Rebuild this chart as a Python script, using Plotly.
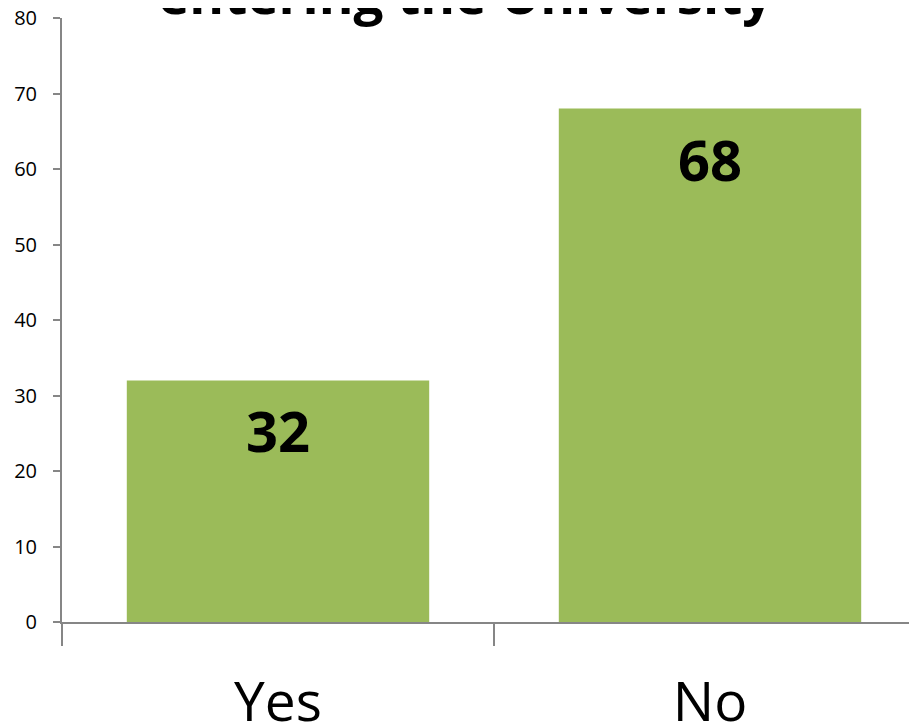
import plotly.graph_objects as go

categories = ["Yes", "No"]
values = [32, 68]
y_ticks = [0, 10, 20, 30, 40, 50, 60, 70, 80]
title_text = "entering the University"

BAR = "#9BBB59"
AXIS = "#868686"

fig = go.Figure(go.Bar(
    x=categories, y=values, width=0.7,
    marker=dict(color=BAR, line=dict(width=0)),
    hoverinfo="x+y",
))

for c, v in zip(categories, values):
    fig.add_annotation(x=c, y=v, text="<b>%d</b>" % v, showarrow=False,
                       yanchor="top", yshift=-10,
                       font=dict(family="Open Sans", size=56, color="black"))

fig.add_annotation(xref="paper", yref="paper", x=0.4725, y=1.0, yanchor="bottom",
                   yshift=-14, text="<b>%s</b>" % title_text, showarrow=False,
                   font=dict(family="Open Sans", size=53, color="black"))

fig.update_layout(
    width=909, height=719,
    margin=dict(l=54, r=0, t=10, b=105),
    paper_bgcolor="white", plot_bgcolor="white",
    showlegend=False,
    xaxis=dict(
        type="category", range=[-0.5, -0.5 + 855 / 432], automargin=False,
        showline=True, linecolor=AXIS, linewidth=2,
        ticks="outside", tickson="boundaries", ticklen=22, tickcolor=AXIS, tickwidth=2,
        showgrid=False, zeroline=False,
        tickfont=dict(family="Open Sans", size=55, color="black"),
        ticklabelstandoff=31,
    ),
    yaxis=dict(
        range=[0, 80], tickvals=y_ticks, automargin=False,
        ticklabeloverflow="allow", ticklabelstandoff=12,
        showline=True, linecolor=AXIS, linewidth=2,
        ticks="outside", ticklen=7, tickcolor=AXIS, tickwidth=2,
        showgrid=False, zeroline=False,
        tickfont=dict(family="Open Sans", size=20, color="black"),
    ),
)

fig.write_html("out.html")
